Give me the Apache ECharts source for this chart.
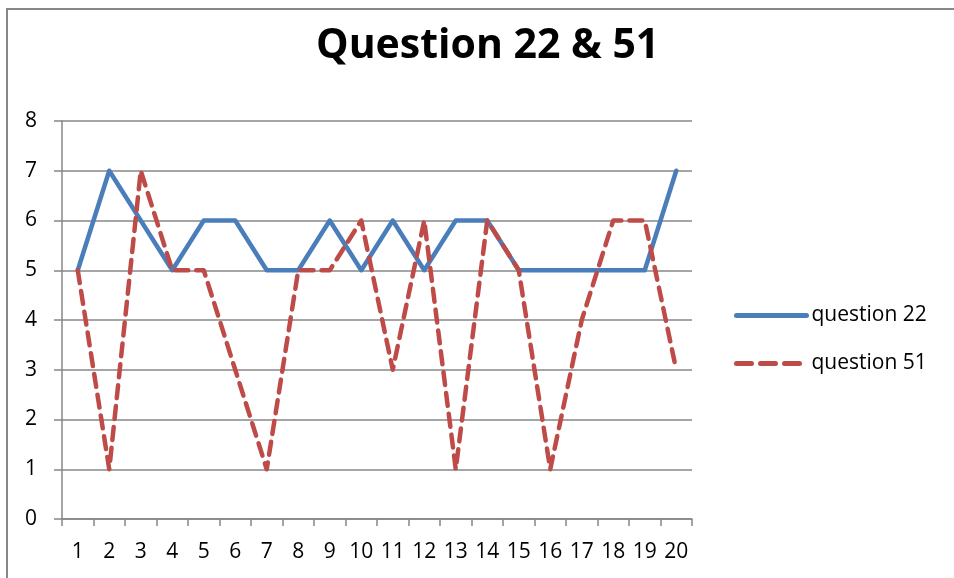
<!DOCTYPE html>
<html lang="en" style="height: 100%">
<head>
  <meta charset="utf-8">
  <title>Question 22 & 51</title>
</head>
<body style="height: 100%; margin: 0; background: #fff">
  <div id="container" style="width: 954px; height: 578px"></div>
  <script type="text/javascript" src="https://fastly.jsdelivr.net/npm/echarts@6.0.0/dist/echarts.min.js"></script>
  <script type="text/javascript">
    var dom = document.getElementById('container');
    var myChart = echarts.init(dom, null, { renderer: 'canvas' });

    // values
    const categories = ['1', '2', '3', '4', '5', '6', '7', '8', '9', '10',
      '11', '12', '13', '14', '15', '16', '17', '18', '19', '20'];
    const question22 = [5, 7, 6, 5, 6, 6, 5, 5, 6, 5, 6, 5, 6, 6, 5, 5, 5, 5, 5, 7];
    const question51 = [5, 1, 7, 5, 5, 3, 1, 5, 5, 6, 3, 6, 1, 6, 5, 1, 4, 6, 6, 3];

    const font = '"Open Sans", "Noto Sans", sans-serif';
    const gridColor = '#878787';
    const blue = '#4A7EBB';
    const red = '#BE4B48';

    var option = {
      animation: false,
      backgroundColor: '#fff',
      textStyle: { fontFamily: font },
      title: {
        text: 'Question 22 & 51',
        left: 311,
        top: 21,
        textStyle: { fontSize: 41, fontWeight: 'bold', color: '#000', fontFamily: font }
      },
      graphic: [
        {
          type: 'rect',
          shape: { x: 7, y: 9, width: 1200, height: 1200 },
          style: { fill: 'none', stroke: gridColor, lineWidth: 2 },
          silent: true
        }
      ],
      legend: {
        orient: 'vertical',
        left: 734,
        top: 305,
        padding: 0,
        itemWidth: 70,
        itemHeight: 20,
        itemGap: 27,
        itemTextGap: 8,
        textStyle: { fontSize: 21, color: '#000', fontFamily: font },
        itemStyle: { opacity: 0 },
        data: [
          { name: 'question 22', lineStyle: { width: 5, color: blue, cap: 'round' } },
          { name: 'question 51', lineStyle: { width: 5, color: red, type: [15, 9], cap: 'round' } }
        ]
      },
      grid: {
        left: 62,
        right: 262,
        top: 121,
        bottom: 59
      },
      xAxis: {
        type: 'category',
        data: categories,
        boundaryGap: true,
        axisLine: { lineStyle: { color: gridColor, width: 1.5 } },
        axisTick: { show: true, length: 7, lineStyle: { color: gridColor, width: 1.5 } },
        axisLabel: { color: '#000', fontSize: 21, margin: 23, interval: 0, fontFamily: font },
        splitLine: { show: false }
      },
      yAxis: {
        type: 'value',
        min: 0,
        max: 8,
        interval: 1,
        axisLine: { show: true, lineStyle: { color: gridColor, width: 1.5 } },
        axisTick: { show: true, length: 8, lineStyle: { color: gridColor, width: 1.5 } },
        axisLabel: { color: '#000', fontSize: 21, margin: 25, fontFamily: font },
        splitLine: { lineStyle: { color: gridColor, width: 1.5 } }
      },
      series: [
        {
          name: 'question 22',
          type: 'line',
          data: question22,
          symbol: 'none',
          color: blue,
          lineStyle: { width: 4.5, color: blue, cap: 'round', join: 'round' }
        },
        {
          name: 'question 51',
          type: 'line',
          data: question51,
          symbol: 'none',
          color: red,
          lineStyle: { width: 4.5, color: red, type: [13, 8], cap: 'round', join: 'round' }
        }
      ]
    };

    myChart.setOption(option);
    window.addEventListener('resize', myChart.resize);
  </script>
</body>
</html>
